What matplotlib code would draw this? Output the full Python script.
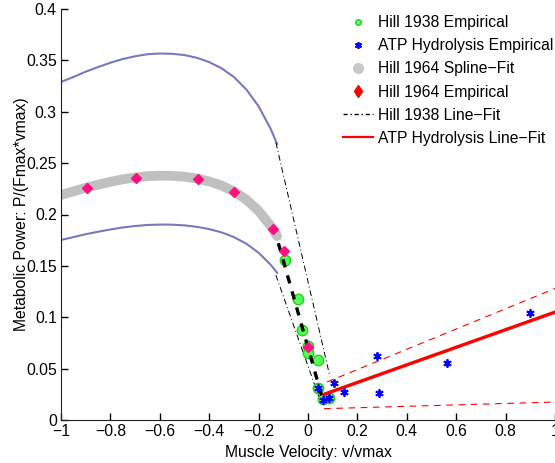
import matplotlib
matplotlib.use('Agg')
import matplotlib.pyplot as plt
from matplotlib.lines import Line2D

plt.rcParams['font.family'] = ['Liberation Sans', 'DejaVu Sans']
plt.rcParams['font.size'] = 11.3

# Hill 1964 spline fit and its upper / lower bounds
spline_x = [-1.0, -0.95, -0.9, -0.85, -0.8, -0.75, -0.7, -0.65, -0.6, -0.55,
            -0.5, -0.45, -0.4, -0.35, -0.3, -0.25, -0.2, -0.15, -0.125]
spline_y = [0.219, 0.2225, 0.226, 0.229, 0.2318, 0.2342, 0.236, 0.2373, 0.2378, 0.2376,
            0.2368, 0.235, 0.2322, 0.2282, 0.2225, 0.2145, 0.2035, 0.1885, 0.179]
upper_y = [0.329, 0.3338, 0.339, 0.3435, 0.3477, 0.3513, 0.354, 0.356, 0.3567, 0.3564,
           0.3552, 0.3525, 0.3483, 0.3423, 0.3338, 0.3218, 0.3053, 0.2828, 0.2685]
lower_y = [0.1752, 0.178, 0.1808, 0.1832, 0.1854, 0.1874, 0.1888, 0.1898, 0.1902, 0.1901,
           0.1894, 0.188, 0.1858, 0.1826, 0.178, 0.1716, 0.1628, 0.1508, 0.1432]

# Hill 1964 empirical
h64_x = [-0.895, -0.696, -0.445, -0.299, -0.142, -0.097, 0.0]
h64_y = [0.226, 0.236, 0.235, 0.222, 0.186, 0.164, 0.071]

# Hill 1938 empirical
h38_x = [-0.093, -0.04, -0.024, 0.0, 0.0, 0.04, 0.04, 0.06, 0.085]
h38_y = [0.156, 0.118, 0.088, 0.072, 0.065, 0.058, 0.031, 0.020, 0.021]

# ATP hydrolysis empirical
atp_x = [0.04, 0.06, 0.085, 0.105, 0.146, 0.279, 0.287, 0.563, 0.899]
atp_y = [0.031, 0.0195, 0.021, 0.036, 0.027, 0.062, 0.026, 0.055, 0.104]

# Hill 1938 line fit and bounds
h38fit_x = [-0.12, 0.055]
h38fit_y = [0.172, 0.024]
h38hi_x = [-0.13, 0.089]
h38hi_y = [0.270, 0.042]
h38lo_x = [-0.13, 0.055]
h38lo_y = [0.141, 0.015]

# ATP hydrolysis line fit and bounds
atpfit_x = [0.065, 1.0]
atpfit_y = [0.025, 0.105]
atphi_x = [0.077, 1.0]
atphi_y = [0.037, 0.128]
atplo_x = [0.065, 1.0]
atplo_y = [0.011, 0.0175]


def main():
    fig = plt.figure(figsize=(5.55, 4.63), dpi=100)
    ax = fig.add_axes([61 / 555, 43 / 463, 494 / 555, 411 / 463])

    blue = '#7878C0'
    ax.plot(spline_x, upper_y, color=blue, lw=1.5, zorder=2)
    ax.plot(spline_x, lower_y, color=blue, lw=1.5, zorder=2)
    ax.plot(spline_x, spline_y, color='#C0C0C0', lw=7, solid_capstyle='round', zorder=2)

    ax.plot(h38hi_x, h38hi_y, color='k', lw=0.7, ls=(0, (6, 3, 1, 3)), zorder=3)
    ax.plot(h38lo_x, h38lo_y, color='k', lw=0.7, ls=(0, (6, 3, 1, 3)), zorder=3)

    ax.plot(h38_x, h38_y, 'o', ms=7.5, mfc='#55FF55', mec='#22CC22', mew=1, ls='none', zorder=4)
    ax.plot(h38fit_x, h38fit_y, color='k', lw=2.4, ls=(0, (2.5, 2.5)), zorder=5)
    ax.plot(h64_x, h64_y, 'D', ms=5.5, color='#FF1080', ls='none', zorder=6)
    ax.plot(atp_x, atp_y, marker=(6, 2, 0), ms=6, color='#0000FF', mew=1.3, ls='none', zorder=7)

    ax.plot(atpfit_x, atpfit_y, color='#FF0000', lw=2.4, zorder=5, clip_on=False)
    ax.plot(atphi_x, atphi_y, color='#FF0000', lw=0.8, ls=(0, (6, 5)), zorder=5, clip_on=False)
    ax.plot(atplo_x, atplo_y, color='#FF0000', lw=0.8, ls=(0, (6, 5)), zorder=5, clip_on=False)

    ax.set_xlim(-1, 1)
    ax.set_ylim(0, 0.4)
    ax.set_xticks([-1, -0.8, -0.6, -0.4, -0.2, 0, 0.2, 0.4, 0.6, 0.8, 1])
    ax.set_xticklabels(['\u22121', '\u22120.8', '\u22120.6', '\u22120.4', '\u22120.2', '0',
                        '0.2', '0.4', '0.6', '0.8', '1'])
    ax.set_yticks([0, 0.05, 0.1, 0.15, 0.2, 0.25, 0.3, 0.35, 0.4])
    ax.set_yticklabels(['0', '0.05', '0.1', '0.15', '0.2', '0.25', '0.3', '0.35', '0.4'])
    ax.tick_params(direction='in', length=5, width=1, pad=3)
    ax.spines['top'].set_visible(False)
    ax.spines['right'].set_visible(False)
    ax.spines['left'].set_color('#222222')
    ax.spines['bottom'].set_color('#222222')

    ax.set_xlabel('Muscle Velocity: v/vmax', labelpad=4)
    ax.set_ylabel('Metabolic Power: P/(Fmax*vmax)', labelpad=-2)

    handles = [
        Line2D([], [], marker='o', ms=4, mfc='#55FF55', mec='#22CC22', ls='none'),
        Line2D([], [], marker=(6, 2, 0), ms=5, color='#0000FF', mew=1.2, ls='none'),
        Line2D([], [], marker='o', ms=7, color='#C8C8C8', ls='none'),
        Line2D([], [], marker='d', ms=6, color='#FF0000', ls='none'),
        Line2D([], [], color='k', lw=1, ls=(0, (3, 2, 1, 2))),
        Line2D([], [], color='#FF0000', lw=1.6),
    ]
    labels = ['Hill 1938 Empirical', 'ATP Hydrolysis Empirical', 'Hill 1964 Spline\u2212Fit',
              'Hill 1964 Empirical', 'Hill 1938 Line\u2212Fit', 'ATP Hydrolysis Line\u2212Fit']
    ax.legend(handles, labels, loc='upper left', bbox_to_anchor=(0.571, 0.985),
              frameon=False, borderpad=0, borderaxespad=0, handlelength=1.9,
              handletextpad=0.3, labelspacing=0.52)

    fig.savefig('out.png', dpi=100)


if __name__ == '__main__':
    main()
